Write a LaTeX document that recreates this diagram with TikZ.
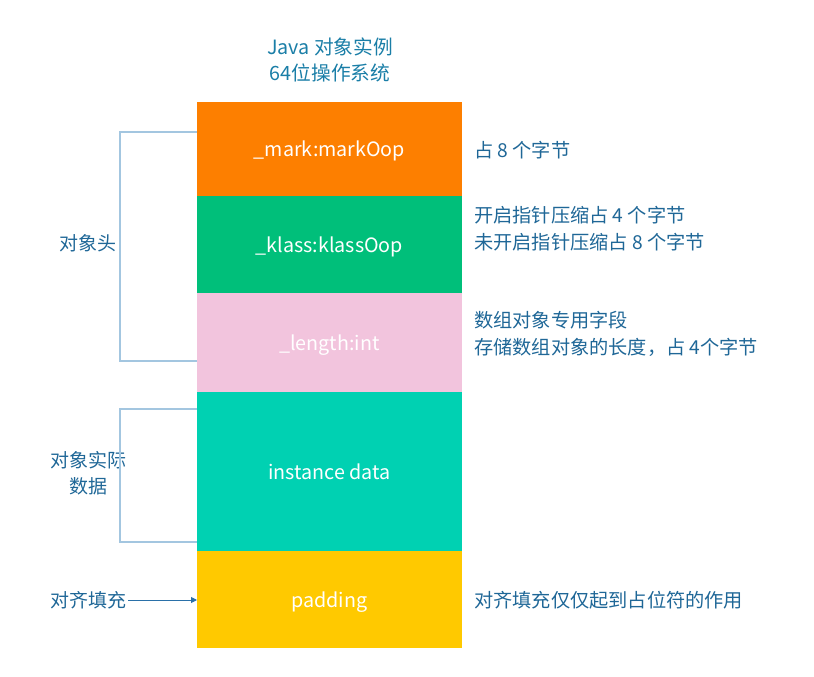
\documentclass[tikz,border=0pt]{standalone}
\usepackage{fontspec}
\setmainfont{Noto Sans CJK SC}
\usetikzlibrary{arrows.meta}
\definecolor{cOrange}{HTML}{FD7F00}
\definecolor{cGreen}{HTML}{00BF7A}
\definecolor{cPink}{HTML}{F2C4DD}
\definecolor{cTeal}{HTML}{00D1B2}
\definecolor{cYellow}{HTML}{FFC900}
\definecolor{cText}{HTML}{1F6797}
\definecolor{cLine}{HTML}{A3C6E0}
\definecolor{cArrow}{HTML}{2A70A8}
\tikzset{
  field/.style={draw=none, minimum width=265pt, inner sep=0pt, outer sep=0pt, text=white, text height=15pt, text depth=0pt, font=\fontsize{19.7}{22}\selectfont},
  note/.style={anchor=west, text=cText, inner sep=0pt, align=left, font=\fontsize{19.2}{27}\selectfont},
  side/.style={text=cText, inner sep=0pt, align=center, font=\fontsize{19}{26}\selectfont},
  bracket/.style={draw=cLine, line width=1.2pt},
}
\begin{document}
\begin{tikzpicture}[x=1pt,y=-1pt]
\useasboundingbox (0,0) rectangle (814,677);
% title
\node[side, text=cText!85!cyan, font=\fontsize{19.7}{26}\selectfont] (title) at (330,60) {Java 对象实例\\64位操作系统};
% fields
\node[field, fill=cOrange, minimum height=94pt, anchor=north west] (mark) at (197,102) {\_mark:markOop};
\node[field, fill=cGreen, minimum height=97pt, anchor=north west] (klass) at (197,196) {\_klass:klassOop};
\node[field, fill=cPink, minimum height=99pt, anchor=north west] (length) at (197,293) {\_length:int};
\node[field, fill=cTeal, minimum height=159pt, anchor=north west] (inst) at (197,392) {instance data};
\node[field, fill=cYellow, minimum height=97pt, anchor=north west] (pad) at (197,551) {padding};
% notes
\node[note] (n1) at (474,150) {占 8 个字节};
\node[note] (n2) at (474,229) {开启指针压缩占 4 个字节\\未开启指针压缩占 8 个字节};
\node[note] (n3) at (474,334) {数组对象专用字段\\存储数组对象的长度，占 4个字节};
\node[note] (n4) at (474,600) {对齐填充仅仅起到占位符的作用};
% side labels
\node[side] (hdr) at (88,243) {对象头};
\node[side] (data) at (88,473) {对象实际\\数据};
\node[side] (padl) at (88,600) {对齐填充};
% brackets
\coordinate (b1t) at (197,132);
\coordinate (b1b) at (197,361);
\coordinate (b2t) at (197,409);
\coordinate (b2b) at (197,542);
\draw[bracket] (b1t) -- (120,132) -- (120,361) -- (b1b);
\draw[bracket] (b2t) -- (120,409) -- (120,542) -- (b2b);
\draw[draw=cArrow, line width=0.9pt, -{Triangle[length=6pt,width=6pt]}] ([xshift=2pt]padl.east) -- (pad.west |- padl.east);
\end{tikzpicture}
\end{document}
